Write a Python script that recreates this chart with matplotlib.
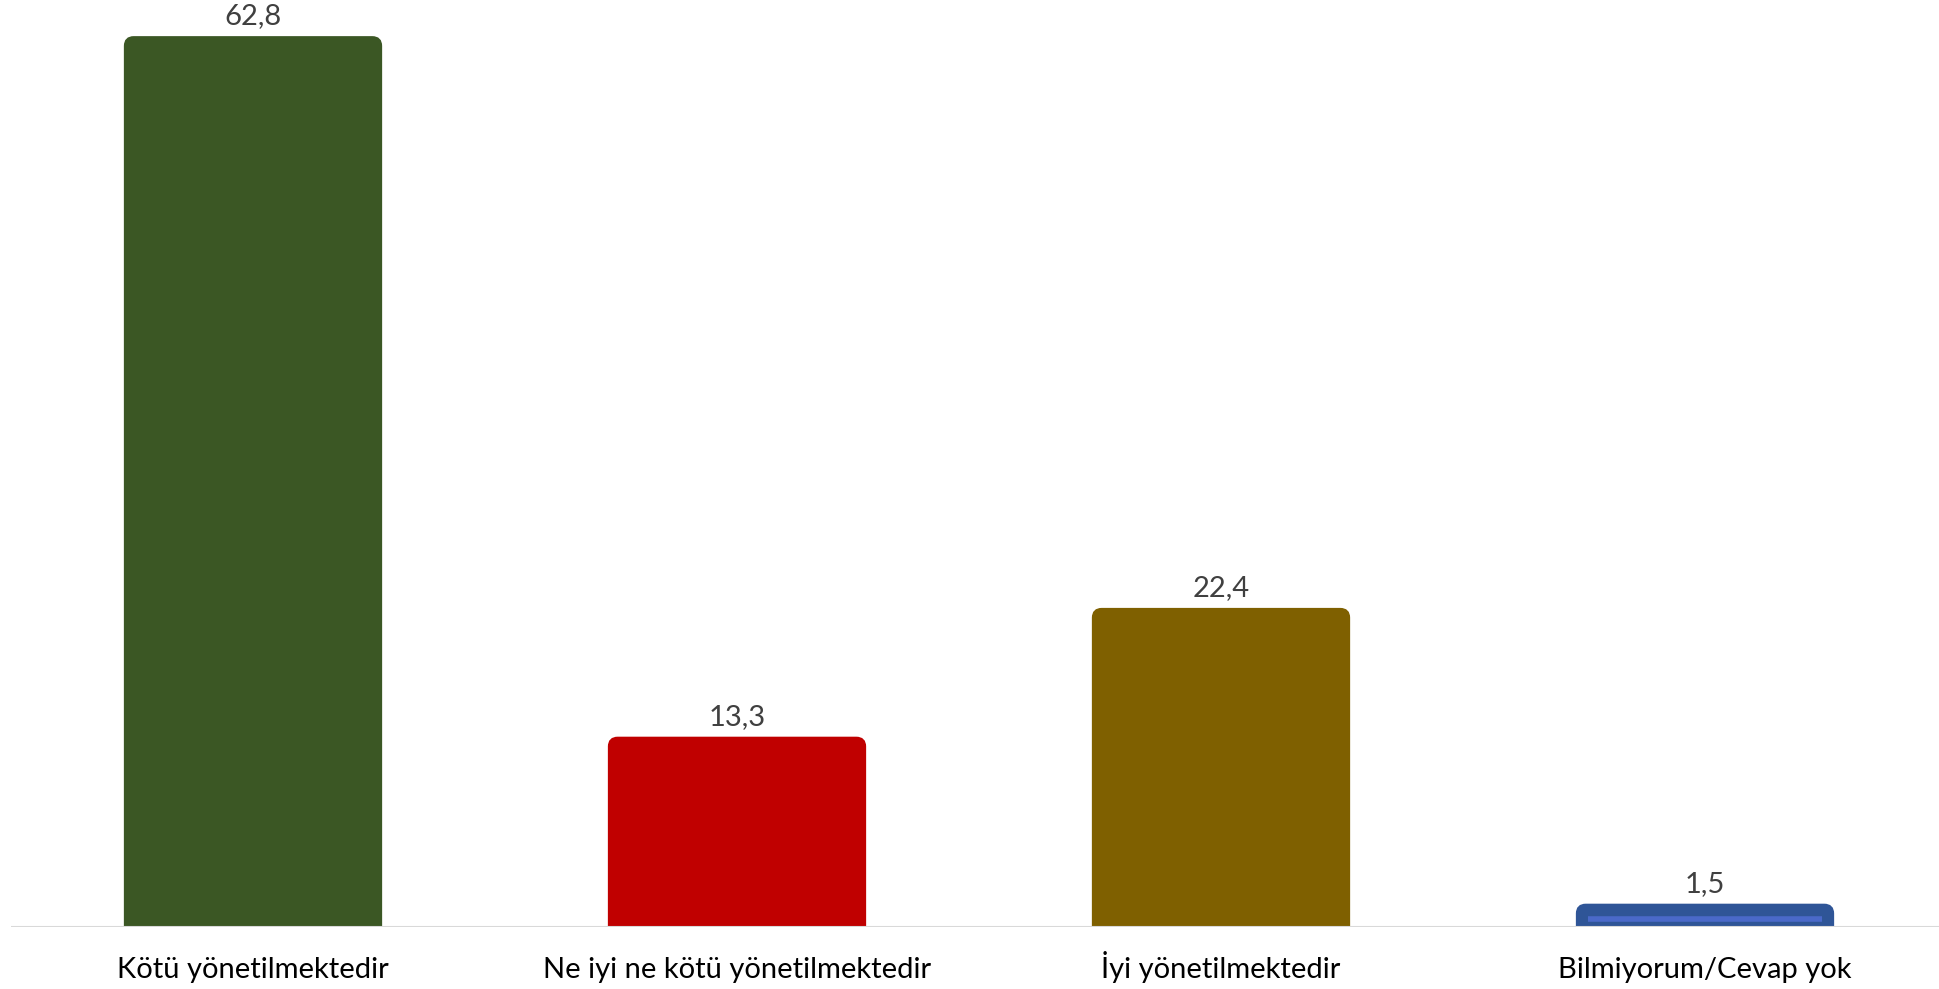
import matplotlib.pyplot as plt
from matplotlib.patches import FancyBboxPatch

categories = ['Kötü yönetilmektedir', 'Ne iyi ne kötü yönetilmektedir',
              'İyi yönetilmektedir', 'Bilmiyorum/Cevap yok']
values = [62.8, 13.3, 22.4, 1.5]
value_labels = ['62,8', '13,3', '22,4', '1,5']
colors = ['#3B5724', '#C00000', '#7F6000', '#2F5597']

plt.rcParams['font.family'] = ['Lato', 'DejaVu Sans']

fig = plt.figure(figsize=(19.39, 9.89), dpi=100)
ax = fig.add_axes([11 / 1939, 62 / 989, 4 * 484 / 1939, 1 - 62 / 989])

ax.set_xlim(-0.5, 3.5)
ax.set_ylim(0, 65.5)

width = 0.525
# aspect between x and y data units in pixels (x unit ~484px, y unit ~14.2px)
aspect = 484 / 14.16
for i, (v, c) in enumerate(zip(values, colors)):
    patch = FancyBboxPatch((i - width / 2, -2), width, v + 2,
                           boxstyle='round,pad=0,rounding_size=0.016',
                           mutation_aspect=aspect, facecolor=c,
                           edgecolor=c, linewidth=3, zorder=2)
    ax.add_patch(patch)
    ax.text(i, v + 1.0, value_labels[i], ha='center', va='baseline',
            fontsize=21, color='#404040')

# lighter highlight inside the last bar
ax.plot([3 - width / 2 + 0.02, 3 + width / 2 - 0.02], [0.6, 0.6],
        color='#4A69C9', linewidth=4, solid_capstyle='butt', zorder=3)

ax.axhline(0, color='#D9D9D9', linewidth=1.5, zorder=4)

# category labels, aligned on a common baseline
for i, cat in enumerate(categories):
    ax.text(i, -51 / 927, cat, transform=ax.get_xaxis_transform(),
            ha='center', va='baseline', fontsize=21, color='black')

ax.set_xticks([])
ax.set_yticks([])
for s in ax.spines.values():
    s.set_visible(False)

fig.savefig('out.png', dpi=100)
